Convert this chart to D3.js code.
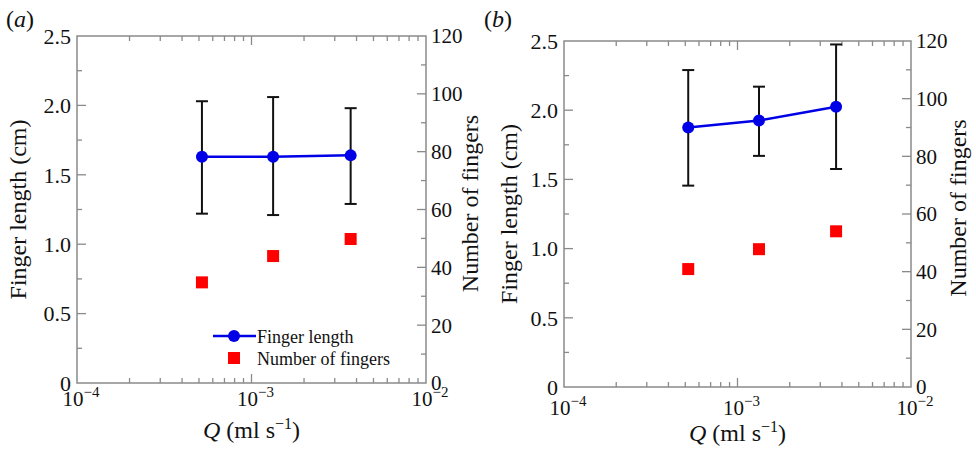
<!DOCTYPE html>
<html>
<head>
<meta charset="utf-8">
<title>Finger length and number of fingers</title>
<script src="https://d3js.org/d3.v7.min.js"></script>
<style>
  body { margin: 0; background: #fff; }
</style>
</head>
<body>
<div id="chart"></div>
<script>
// flow rates (ml/s)
const flowRates = [5.2e-4, 1.33e-3, 3.7e-3];

// panel (a)
const lengthA   = [1.63, 1.63, 1.64];
const lengthHiA = [2.03, 2.06, 1.98];
const lengthLoA = [1.22, 1.21, 1.29];
const fingersA  = [34.8, 43.9, 49.8];

// panel (b)
const lengthB   = [1.875, 1.925, 2.025];
const lengthHiB = [2.29, 2.17, 2.475];
const lengthLoB = [1.455, 1.67, 1.575];
const fingersB  = [40.9, 47.8, 54.0];

const leftTicks  = [0, 0.5, 1.0, 1.5, 2.0, 2.5];
const rightTicks = [0, 20, 40, 60, 80, 100, 120];
const decades    = [-4, -3, -2];

const W = 976, H = 453;
let svg = d3.select("#chart").append("svg")
    .attr("width", W).attr("height", H);

function drawPanel(p) {
  let x = d3.scaleLog().domain([1e-4, 1e-2]).range([p.left, p.right]);
  let yL = d3.scaleLinear().domain([0, 2.5]).range([p.bottom, p.top]);
  let yR = d3.scaleLinear().domain([0, 120]).range([p.bottom, p.top]);
  let g = svg.append("g");
  const axisCol = "#8a8a8a";

  // frame
  g.append("rect")
      .attr("x", p.left).attr("y", p.top)
      .attr("width", p.right - p.left).attr("height", p.bottom - p.top)
      .attr("fill", "none").attr("stroke", axisCol).attr("stroke-width", 1.5);

  // x ticks (log, inward on top and bottom)
  let minor = [];
  [-4, -3].forEach(e => { for (let k = 2; k <= 9; k++) minor.push(k * Math.pow(10, e)); });
  let major = [1e-3];
  minor.forEach(v => {
    g.append("line").attr("x1", x(v)).attr("x2", x(v)).attr("y1", p.bottom).attr("y2", p.bottom - 5)
        .attr("stroke", axisCol).attr("stroke-width", 1.3);
    g.append("line").attr("x1", x(v)).attr("x2", x(v)).attr("y1", p.top).attr("y2", p.top + 5)
        .attr("stroke", axisCol).attr("stroke-width", 1.3);
  });
  major.forEach(v => {
    g.append("line").attr("x1", x(v)).attr("x2", x(v)).attr("y1", p.bottom).attr("y2", p.bottom - 9)
        .attr("stroke", axisCol).attr("stroke-width", 1.3);
    g.append("line").attr("x1", x(v)).attr("x2", x(v)).attr("y1", p.top).attr("y2", p.top + 9)
        .attr("stroke", axisCol).attr("stroke-width", 1.3);
  });

  // x tick labels 10^n
  decades.forEach(e => {
    let t = g.append("text")
        .attr("x", x(Math.pow(10, e)) + 4).attr("y", p.xLabelY)
        .attr("text-anchor", "middle").attr("font-size", 21);
    t.append("tspan").text("10");
    t.append("tspan").attr("dy", -9).attr("font-size", 15).text("\u2212" + Math.abs(e));
  });

  // left y axis ticks
  d3.range(0.25, 2.5, 0.25).forEach((v, i) => {
    let len = (i % 2 === 1) ? 9 : 5;
    g.append("line").attr("x1", p.left).attr("x2", p.left + len).attr("y1", yL(v)).attr("y2", yL(v))
        .attr("stroke", axisCol).attr("stroke-width", 1.3);
  });
  leftTicks.forEach(v => {
    g.append("text").attr("x", p.left - 6).attr("y", yL(v)).attr("dy", "0.35em")
        .attr("text-anchor", "end").attr("font-size", 22)
        .text(v === 0 ? "0" : d3.format(".1f")(v));
  });

  // right y axis ticks
  d3.range(10, 120, 10).forEach((v, i) => {
    let len = (i % 2 === 1) ? 9 : 5;
    g.append("line").attr("x1", p.right).attr("x2", p.right - len).attr("y1", yR(v)).attr("y2", yR(v))
        .attr("stroke", axisCol).attr("stroke-width", 1.3);
  });
  rightTicks.forEach(v => {
    g.append("text").attr("x", p.right + 5).attr("y", yR(v)).attr("dy", "0.35em")
        .attr("text-anchor", "start").attr("font-size", 21).text(v);
  });

  // axis titles
  g.append("text")
      .attr("transform", "translate(" + p.leftTitleX + "," + ((p.top + p.bottom) / 2) + ") rotate(-90)")
      .attr("text-anchor", "middle").attr("font-size", 24).text("Finger length (cm)");
  g.append("text")
      .attr("transform", "translate(" + p.rightTitleX + "," + ((p.top + p.bottom) / 2 - 6) + ") rotate(-90)")
      .attr("text-anchor", "middle").attr("font-size", 24).text("Number of fingers");
  let xt = g.append("text")
      .attr("x", x(1e-3)).attr("y", p.xTitleY)
      .attr("text-anchor", "middle").attr("font-size", 24);
  xt.append("tspan").attr("font-style", "italic").text("Q");
  xt.append("tspan").text(" (ml s");
  xt.append("tspan").attr("dy", -9).attr("font-size", 16).text("\u22121");
  xt.append("tspan").attr("dy", 9).text(")");

  // panel label
  let pl = g.append("text").attr("x", p.labelX).attr("y", 27).attr("font-size", 24);
  pl.append("tspan").text("(");
  pl.append("tspan").attr("font-style", "italic").text(p.label);
  pl.append("tspan").text(")");

  // error bars
  flowRates.forEach((q, i) => {
    let cx = x(q);
    g.append("line").attr("x1", cx).attr("x2", cx)
        .attr("y1", yL(p.hi[i])).attr("y2", yL(p.lo[i]))
        .attr("stroke", "#111").attr("stroke-width", 2);
    [p.hi[i], p.lo[i]].forEach(v => {
      g.append("line").attr("x1", cx - 6).attr("x2", cx + 6)
          .attr("y1", yL(v)).attr("y2", yL(v))
          .attr("stroke", "#111").attr("stroke-width", 2);
    });
  });

  // number of fingers
  g.selectAll(".sq").data(p.fingers).enter().append("rect")
      .attr("x", (d, i) => x(flowRates[i]) - 6)
      .attr("y", d => yR(d) - 6)
      .attr("width", 12).attr("height", 12)
      .attr("fill", "#ff0000");

  // finger length line + markers
  let line = d3.line().x((d, i) => x(flowRates[i])).y(d => yL(d));
  g.append("path").datum(p.len)
      .attr("d", line).attr("fill", "none")
      .attr("stroke", "#0000e6").attr("stroke-width", 2.5);
  g.selectAll(".dot").data(p.len).enter().append("circle")
      .attr("cx", (d, i) => x(flowRates[i]))
      .attr("cy", d => yL(d))
      .attr("r", 6).attr("fill", "#0000e6");

  // legend
  if (p.legend) {
    let lx = 234, ly = 336;
    g.append("line").attr("x1", lx - 21).attr("x2", lx + 22).attr("y1", ly).attr("y2", ly)
        .attr("stroke", "#0000e6").attr("stroke-width", 2.5);
    g.append("circle").attr("cx", lx).attr("cy", ly).attr("r", 6).attr("fill", "#0000e6");
    g.append("text").attr("x", lx + 23).attr("y", ly + 7).attr("font-size", 18).text("Finger length");
    g.append("rect").attr("x", lx - 6).attr("y", ly + 16).attr("width", 12).attr("height", 12)
        .attr("fill", "#ff0000");
    g.append("text").attr("x", lx + 23).attr("y", ly + 29).attr("font-size", 18).text("Number of fingers");
  }
}

drawPanel({
  left: 77, right: 426, top: 36, bottom: 383,
  len: lengthA, hi: lengthHiA, lo: lengthLoA, fingers: fingersA,
  xLabelY: 406, xTitleY: 438, leftTitleX: 26, rightTitleX: 478,
  label: "a", labelX: 6, legend: true
});

drawPanel({
  left: 564, right: 911, top: 41, bottom: 387,
  len: lengthB, hi: lengthHiB, lo: lengthLoB, fingers: fingersB,
  xLabelY: 415, xTitleY: 441, leftTitleX: 517, rightTitleX: 966,
  label: "b", labelX: 484, legend: false
});

// serif font on every text element directly
svg.selectAll("text").attr("font-family", "Liberation Serif").attr("fill", "#111");
</script>
</body>
</html>
